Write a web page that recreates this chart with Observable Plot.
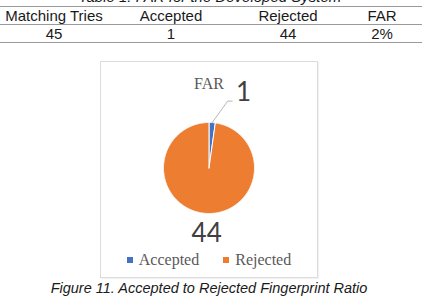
<!DOCTYPE html>
<html><head><meta charset="utf-8">
<script src="https://cdn.jsdelivr.net/npm/d3@7"></script>
<script src="https://cdn.jsdelivr.net/npm/@observablehq/plot@0.6"></script>
<style>
body{margin:0;background:#fff;width:425px;height:304px;overflow:hidden;position:relative;font-family:"Liberation Sans",Arial,sans-serif;color:#1a1a1a;}
#title{position:absolute;left:0;width:420px;top:-12px;text-align:center;font-style:italic;font-size:15px;line-height:18px;}
table{position:absolute;left:0;top:6px;border-collapse:collapse;font-size:15px;table-layout:fixed;}
td{text-align:center;padding:0;height:17px;line-height:17px;border-top:1.5px solid #9a9a9a;border-bottom:1.5px solid #9a9a9a;}
#frame{position:absolute;left:100px;top:61px;width:216px;height:215px;border:1px solid #dcdcdc;box-shadow:1px 1px 1px rgba(0,0,0,0.05);}
#chartbox{position:absolute;left:0;top:0;}
#legend{position:absolute;left:0;top:181px;width:216px;}
#legend [class*="-swatches"]{justify-content:center;}
#legend [class$="-swatch"]{margin-right:24px !important;}
#legend [class$="-swatch"]:last-child{margin-right:0 !important;}
#legend [class$="-swatch"] > svg{margin-right:6px !important;}
#caption{position:absolute;left:0;width:418px;top:280px;text-align:center;font-style:italic;font-size:14.5px;line-height:17px;}
</style></head>
<body>
<div id="title">Table 1: FAR for the Developed System</div>
<table>
<colgroup><col style="width:108px"><col style="width:126px"><col style="width:108px"><col style="width:80px"></colgroup>
<tr id="head"></tr>
<tr id="vals"></tr>
</table>
<div id="frame"><div id="chartbox"></div><div id="legend"></div></div>
<div id="caption">Figure 11. Accepted to Rejected Fingerprint Ratio</div>
<script>
// Table data
const tableHeaders = ["Matching Tries", "Accepted", "Rejected", "FAR"];
const tableValues = ["45", "1", "44", "2%"];
// Chart data
const categories = ["Accepted", "Rejected"];
const values = [1, 44];
const colors = ["#4472C4", "#ED7D31"];
const chartTitle = "FAR";

document.getElementById("head").innerHTML = tableHeaders.map(h => `<td>${h}</td>`).join("");
document.getElementById("vals").innerHTML = tableValues.map(v => `<td>${v}</td>`).join("");

const data = categories.map((c, i) => ({category: c, value: values[i]}));
const arcs = d3.pie().sort(null).value(d => d.value)(data);

// slice outlines (angles from top, clockwise)
const pts = [];
for (const a of arcs) {
  const n = Math.max(2, Math.ceil((a.endAngle - a.startAngle) / (Math.PI / 360)));
  pts.push({category: a.data.category, x: 0, y: 0});
  for (let k = 0; k <= n; k++) {
    const t = a.startAngle + (a.endAngle - a.startAngle) * k / n;
    pts.push({category: a.data.category, x: Math.sin(t), y: Math.cos(t)});
  }
  pts.push({category: a.data.category, x: 0, y: 0});
}

const mid = a => (a.startAngle + a.endAngle) / 2;
const small = arcs[0], big = arcs[1];
// labels
const labels = [
  {text: String(small.data.value), x: 0.76, y: 1.66},
  {text: String(big.data.value), x: Math.sin(mid(big)) * 1.45 + 0.05, y: Math.cos(mid(big)) * 1.45}
];
const leader = [
  {x: Math.sin(mid(small)), y: Math.cos(mid(small))},
  {x: 0.41, y: 1.47},
  {x: 0.51, y: 1.47}
];

const chart = Plot.plot({
  width: 216, height: 215,
  style: {background: "transparent", overflow: "visible"},
  x: {domain: [-1, 1], range: [62, 153], axis: null},
  y: {domain: [-1, 1], range: [151, 60], axis: null},
  color: {domain: categories, range: colors},
  marks: [
    Plot.line(pts, {x: "x", y: "y", z: "category", fill: "category", stroke: "white", strokeWidth: 1, curve: "linear"}),
    Plot.line(leader, {x: "x", y: "y", stroke: "#a6a6a6", strokeWidth: 0.8}),
    Plot.text(labels, {x: "x", y: "y", text: "text", fontSize: 26, fill: "#404040", fontFamily: "Lato, 'Open Sans', sans-serif"}),
    Plot.text([chartTitle], {x: [0], y: [1.85], text: d => d, fontSize: 16, fill: "#595959", fontFamily: "'Liberation Serif', serif"})
  ]
});
document.getElementById("chartbox").appendChild(chart);

const legend = Plot.legend({
  color: {type: "ordinal", domain: categories, range: colors},
  swatchSize: 6,
  style: {fontFamily: "'Liberation Serif', serif", fontSize: "16px", color: "#595959"}
});
document.getElementById("legend").appendChild(legend);
</script>
</body></html>
